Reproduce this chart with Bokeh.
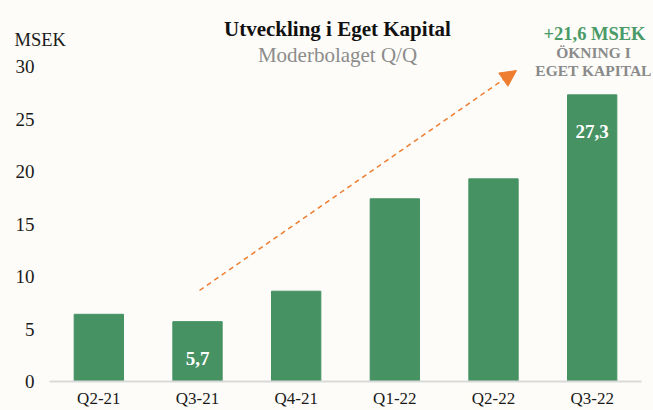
from bokeh.plotting import figure
from bokeh.models import Range1d, Label, Arrow, NormalHead, ColumnDataSource, FixedTicker
from bokeh.core.properties import value
from bokeh.embed import file_html
from bokeh.resources import INLINE

# ---- data ----
quarters = ["Q2-21", "Q3-21", "Q4-21", "Q1-22", "Q2-22", "Q3-22"]
equity = [6.4, 5.7, 8.6, 17.4, 19.3, 27.3]
bar_labels = ["", "5,7", "", "", "", "27,3"]
y_ticks = [0, 5, 10, 15, 20, 25, 30]
title_text = "Utveckling i Eget Kapital"
subtitle_text = "Moderbolaget Q/Q"
unit_text = "MSEK"
increase_text = "+21,6 MSEK"
increase_sub = ["ÖKNING I", "EGET KAPITAL"]

BG = "#fdfcf8"
GREEN = "#469263"
FONT = "Liberation Serif"

# ---- layout (page pixels) ----
W, H = 653, 410
AX_L, AX_R = 49, 641          # extent of the category axis
Y0, Y30 = 381, 66             # pixel rows of the values 0 and 30
n = len(quarters)
cat_px = (AX_R - AX_L) / n
px_per_unit = (Y0 - Y30) / 30.0

def xd(px):
    return (px - AX_L) / cat_px

def yd(py):
    return (Y0 - py) / px_per_unit

centers = [i + 0.5 for i in range(n)]

p = figure(width=W, height=H, x_range=Range1d(xd(0), xd(W)), y_range=Range1d(yd(H), yd(0)),
           output_backend="svg", toolbar_location=None,
           background_fill_color=BG, border_fill_color=BG, outline_line_color=None)
p.min_border = 0

src = ColumnDataSource(dict(x=centers, v=equity, lab=bar_labels,
                            ly=[v - 3.5 for v in equity]))
p.vbar(x="x", top="v", width=0.5, source=src, fill_color=GREEN, line_color=GREEN)
p.text(x="x", y="ly", text="lab", source=src, text_align="center", text_baseline="alphabetic",
       text_color="white", text_font=value(FONT), text_font_style="bold", text_font_size="19px")

p.grid.visible = False

# value axis, drawn at the left end of the category axis
p.yaxis.fixed_location = 0
p.yaxis.bounds = (0, 30)
p.yaxis.ticker = FixedTicker(ticks=y_ticks)
p.yaxis.axis_line_color = None
p.yaxis.major_tick_line_color = None
p.yaxis.minor_tick_line_color = None
p.yaxis.major_label_standoff = 9
p.yaxis.major_label_text_font = FONT
p.yaxis.major_label_text_font_size = "19px"
p.yaxis.major_label_text_color = "#1a1a1a"

# category axis, drawn at value 0
p.xaxis.fixed_location = 0
p.xaxis.bounds = (0, n)
p.xaxis.ticker = FixedTicker(ticks=centers)
p.xaxis.major_label_overrides = {c: q for c, q in zip(centers, quarters)}
p.xaxis.axis_line_color = "#d9d9d9"
p.xaxis.axis_line_width = 2
p.xaxis.major_tick_line_color = None
p.xaxis.minor_tick_line_color = None
p.xaxis.major_label_standoff = 1
p.xaxis.major_label_text_font = FONT
p.xaxis.major_label_text_font_size = "17px"
p.xaxis.major_label_text_color = "#1a1a1a"

# growth arrow from Q3-21 towards Q3-22
p.add_layout(Arrow(end=NormalHead(size=16, fill_color="#ed7d31", line_color="#ed7d31"),
                   x_start=xd(199), y_start=yd(290), x_end=xd(516), y_end=yd(70),
                   line_color="#ed7d31", line_width=1.5, line_dash="5 4"))

def lab(x, y, text, size, color, bold=False, align="center"):
    p.add_layout(Label(x=x, y=y, text=text, text_font=FONT,
                       text_font_style="bold" if bold else "normal",
                       text_font_size=size, text_align=align, text_baseline="alphabetic",
                       text_color=color))

lab(xd(337), yd(28), title_text, "21px", "#111111", bold=True)
lab(xd(337), yd(54), subtitle_text, "21px", "#8c8c8c")
lab(xd(14), yd(39), unit_text, "18.5px", "#1a1a1a", align="left")
lab(xd(594), yd(33), increase_text, "18.5px", "#4a9a68", bold=True)
lab(xd(593), yd(52), increase_sub[0], "15.5px", "#8a8a8a", bold=True)
lab(xd(593), yd(70), increase_sub[1], "15.5px", "#8a8a8a", bold=True)

html = file_html(p, INLINE)
html = html.replace("</head>", "<style>body{background:%s;}</style></head>" % BG, 1)
open("out.html", "w").write(html)
